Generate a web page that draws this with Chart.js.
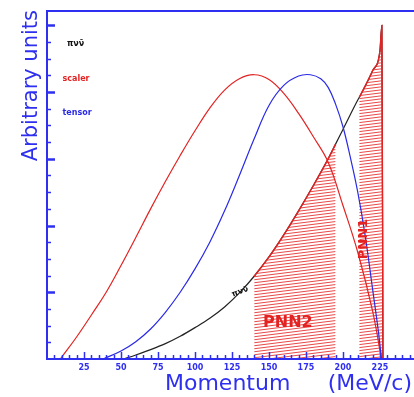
<!DOCTYPE html>
<html>
<head>
<meta charset="utf-8">
<script src="https://cdn.jsdelivr.net/npm/chart.js@4.4.1/dist/chart.umd.min.js"></script>
<style>
  html, body { margin: 0; background: #fff; }
  canvas { display: block; }
</style>
</head>
<body>
<canvas id="momentumChart" width="414" height="397"></canvas>
<script>
// pion momentum spectra, arbitrary units
const scalerP = [9, 20, 30, 40, 50, 60, 70, 80, 90, 100, 110, 120, 130, 140, 150, 160, 170, 180, 190, 200, 210, 220, 226];
const scalerY = [0, 0.33, 0.66, 1.0, 1.4, 1.82, 2.25, 2.66, 3.05, 3.42, 3.76, 4.03, 4.2, 4.26, 4.19, 3.98, 3.68, 3.33, 2.95, 2.3, 1.6, 0.72, 0];

const tensorP = [38, 50, 60, 70, 80, 90, 100, 110, 120, 130, 140, 150, 160, 170, 178, 185, 190, 195, 200, 205, 210, 215, 220, 224, 226];
const tensorY = [0, 0.12, 0.26, 0.45, 0.7, 1.0, 1.35, 1.75, 2.22, 2.75, 3.3, 3.8, 4.1, 4.24, 4.26, 4.2, 4.07, 3.82, 3.48, 3.02, 2.5, 1.85, 1.05, 0.4, 0];

const pnnP = [52, 60, 70, 80, 90, 100, 110, 120, 130, 140, 150, 160, 170, 180, 190, 195, 200, 210, 211, 220, 225, 226.3, 227];
const pnnY = [0, 0.06, 0.14, 0.23, 0.34, 0.47, 0.61, 0.78, 0.99, 1.24, 1.53, 1.86, 2.22, 2.6, 3.0, 3.22, 3.44, 3.88, 3.92, 4.32, 4.62, 5.0, 0];

const pnn2Range = [140, 195];
const pnn1Range = [211, 227];

const xTicks = [25, 50, 75, 100, 125, 150, 175, 200, 225];
const seriesNames = ['πνν̄', 'scaler', 'tensor'];

const axisBlue = '#2f2ff0';
const red = '#e32222';
const blue = '#2a2ae6';

function toPoints(xs, ys, lo, hi) {
  return xs.map((x, i) => ({ x: x, y: ys[i] }))
    .filter(p => p.x >= lo && p.x <= hi);
}

const canvas = document.getElementById('momentumChart');
const ctx = canvas.getContext('2d');

// near-horizontal hatching like the ROOT fill
function makeHatch() {
  const c = document.createElement('canvas');
  c.width = 24; c.height = 3;
  const g = c.getContext('2d');
  g.strokeStyle = 'rgba(228,40,40,0.85)';
  g.lineWidth = 1;
  for (let k = -1; k <= 1; k++) {
    g.beginPath();
    g.moveTo(0, 2.5 + 3 * k);
    g.lineTo(24, -0.5 + 3 * k);
    g.stroke();
  }
  return ctx.createPattern(c, 'repeat');
}
const hatch = makeHatch();

const frame = {
  id: 'frame',
  afterDatasetsDraw(chart) {
    const { ctx, chartArea: a, scales: { x, y } } = chart;
    ctx.save();
    ctx.strokeStyle = axisBlue;
    ctx.lineWidth = 2;
    ctx.beginPath();
    ctx.moveTo(a.right, a.top + 1);
    ctx.lineTo(a.left, a.top + 1);
    ctx.lineTo(a.left, a.bottom);
    ctx.lineTo(a.right, a.bottom);
    ctx.stroke();

    ctx.lineWidth = 1.5;
    for (let v = 5; v < x.max; v += 5) {
      const px = Math.round(x.getPixelForValue(v)) + 0.5;
      const len = v % 25 === 0 ? 7 : 4;
      ctx.beginPath();
      ctx.moveTo(px, a.bottom);
      ctx.lineTo(px, a.bottom - len);
      ctx.stroke();
    }
    for (let v = 0.25; v <= 5; v += 0.25) {
      const py = Math.round(y.getPixelForValue(v)) + 0.5;
      const major = Math.abs(v - Math.round(v)) < 1e-6;
      ctx.lineWidth = major ? 2.5 : 1.5;
      ctx.beginPath();
      ctx.moveTo(a.left, py);
      ctx.lineTo(a.left + (major ? 8 : 4), py);
      ctx.stroke();
    }

    ctx.fillStyle = axisBlue;
    ctx.font = 'bold 8px "DejaVu Sans"';
    ctx.textAlign = 'center';
    ctx.textBaseline = 'middle';
    xTicks.forEach(t => ctx.fillText(String(t), x.getPixelForValue(t), a.bottom + 9));
    ctx.restore();
  },
  afterDraw(chart) {
    const { ctx, scales: { x, y } } = chart;
    ctx.save();
    // axis titles
    ctx.fillStyle = axisBlue;
    ctx.font = '22px "DejaVu Sans"';
    ctx.textBaseline = 'alphabetic';
    ctx.textAlign = 'left';
    ctx.fillText('Momentum', 165, 390);
    ctx.textAlign = 'right';
    ctx.fillText('(MeV/c)', 412, 390);

    ctx.save();
    ctx.translate(37, 10);
    ctx.rotate(-Math.PI / 2);
    ctx.font = '21px "DejaVu Sans"';
    ctx.textAlign = 'right';
    ctx.fillText('Arbitrary units', 0, 0);
    ctx.restore();

    // series key, top left
    ctx.font = 'bold 8px "DejaVu Sans"';
    ctx.textAlign = 'left';
    ctx.textBaseline = 'middle';
    const keyColors = ['#111', red, blue];
    const keyY = [4.72, 4.2, 3.69];
    seriesNames.forEach((n, i) => {
      ctx.fillStyle = keyColors[i];
      ctx.fillText(n, x.getPixelForValue(i === 0 ? 13.5 : 10.5), y.getPixelForValue(keyY[i]));
    });

    // label on the curve
    ctx.save();
    ctx.fillStyle = '#111';
    ctx.translate(x.getPixelForValue(136), y.getPixelForValue(1.05));
    ctx.rotate(-0.35);
    ctx.textAlign = 'right';
    ctx.fillText(seriesNames[0], 0, 0);
    ctx.restore();

    // region names
    ctx.fillStyle = red;
    ctx.font = 'bold 16px "DejaVu Sans"';
    ctx.textAlign = 'left';
    ctx.textBaseline = 'alphabetic';
    ctx.fillText('PNN2', x.getPixelForValue(146), 327);

    ctx.save();
    ctx.translate(x.getPixelForValue(214.2), 239);
    ctx.rotate(-Math.PI / 2);
    ctx.font = 'bold 13px "DejaVu Sans"';
    ctx.textAlign = 'center';
    ctx.textBaseline = 'middle';
    ctx.fillText('PNN1', 0, 0);
    ctx.restore();
    ctx.restore();
  }
};

new Chart(ctx, {
  type: 'line',
  data: {
    datasets: [
      {
        label: seriesNames[0],
        data: toPoints(pnnP, pnnY, 0, 300),
        borderColor: '#222',
        borderWidth: 1.2,
        order: 4
      },
      {
        label: 'PNN2',
        data: toPoints(pnnP, pnnY, pnn2Range[0], pnn2Range[1]),
        borderColor: red,
        borderWidth: 1.4,
        backgroundColor: hatch,
        fill: 'origin',
        order: 3
      },
      {
        label: 'PNN1',
        data: toPoints(pnnP, pnnY, pnn1Range[0], pnn1Range[1]),
        borderColor: red,
        borderWidth: 1.4,
        backgroundColor: hatch,
        fill: 'origin',
        order: 3
      },
      {
        label: seriesNames[1],
        data: toPoints(scalerP, scalerY, 0, 300),
        borderColor: red,
        borderWidth: 1.2,
        cubicInterpolationMode: 'default',
        tension: 0.4,
        order: 2
      },
      {
        label: seriesNames[2],
        data: toPoints(tensorP, tensorY, 0, 300),
        borderColor: blue,
        borderWidth: 1.2,
        cubicInterpolationMode: 'default',
        tension: 0.4,
        order: 1
      }
    ]
  },
  options: {
    responsive: false,
    animation: false,
    layout: { padding: { left: 47, top: 10, right: 0, bottom: 38 } },
    elements: {
      point: { radius: 0 },
      line: { cubicInterpolationMode: 'monotone', fill: false }
    },
    scales: {
      x: { type: 'linear', min: 0, max: 248, display: false },
      y: { min: 0, max: 5.23, display: false }
    },
    plugins: {
      legend: { display: false },
      tooltip: { enabled: false }
    }
  },
  plugins: [frame]
});
</script>
</body>
</html>
